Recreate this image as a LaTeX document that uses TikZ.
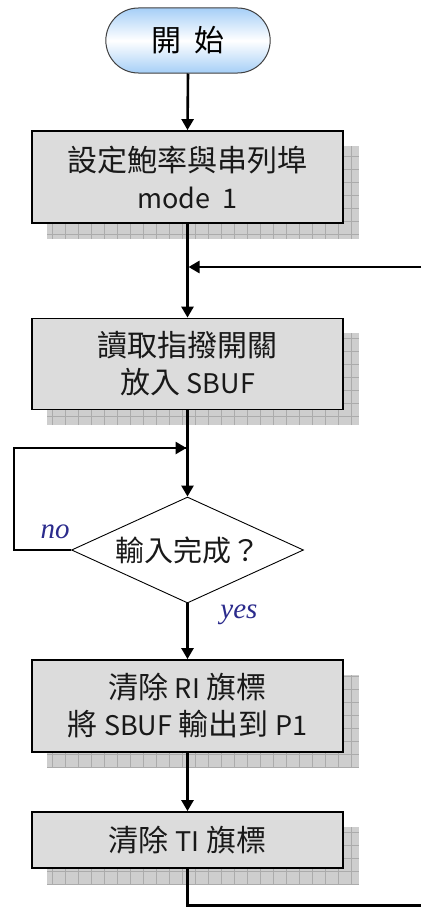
\documentclass[tikz,border=0pt]{standalone}
\usepackage{fontspec}
\setmainfont{Noto Sans CJK TC}
\newfontfamily\lat[Scale=0.9]{Noto Sans CJK TC}
\newfontfamily\lblfont{Liberation Serif}
\usetikzlibrary{shapes.geometric,shapes.misc,arrows.meta}
\definecolor{boxfill}{HTML}{DCDCDC}
\definecolor{shadfill}{HTML}{CECECE}
\definecolor{shadgrid}{HTML}{ABABAB}
\definecolor{startblue}{HTML}{A6CFF7}
\definecolor{lblblue}{HTML}{2B2B8C}
\newcommand\myshadow[4]{%
  \begin{scope}
    \clip (#1,#2) rectangle (#3,#4);
    \fill[shadfill] (#1,#2) rectangle (#3,#4);
    \draw[shadgrid,line width=0.8pt,step=13pt] (#1,#2) grid (#3,#4);
  \end{scope}}
\begin{document}
\begin{tikzpicture}[x=1pt,y=-1pt,
  procbox/.style={draw=black,line width=1.8pt,fill=boxfill,rectangle,
    minimum width=311pt,inner sep=0pt,align=center,font=\fontsize{30}{37}\selectfont,text=black!90},
  conn/.style={line width=2.6pt,draw=black},
  arr/.style={conn,-{Triangle[length=11pt,width=12pt]}},
  lbl/.style={font=\lblfont\itshape\fontsize{29}{30}\selectfont,text=lblblue}]
\useasboundingbox (0,0) rectangle (421,907);
% shadows
\myshadow{47}{146}{359}{239}
\myshadow{47}{333}{359}{425}
\myshadow{47}{675}{359}{768}
\myshadow{47}{827}{359}{884}
% start
\node[rounded rectangle,draw=black!75,line width=1pt,minimum width=171pt,minimum height=65pt,
  top color=startblue,bottom color=startblue,middle color=white,
  font=\fontsize{30}{30}\selectfont] (start) at (188,40.5) {開\hspace{14pt}始};
% boxes
\node[procbox,minimum height=92pt] (b1) at (187.5,177) {設定鮑率與串列埠\\{\lat mode\hspace{12pt}1}};
\node[procbox,minimum height=91pt] (b2) at (187.5,364) {讀取指撥開關\\放入 {\lat SBUF}};
\node[diamond,draw=black,line width=0.9pt,fill=white,minimum width=232pt,minimum height=106pt,inner sep=0pt] (d) at (187.5,550) {};
\node[font=\fontsize{29}{30}\selectfont,text=black!90] (dt) at (d.center) {輸入完成？};
\node[procbox,minimum height=92pt] (b3) at (187.5,706) {清除 {\lat RI} 旗標\\將 {\lat SBUF} 輸出到 {\lat P1}};
\node[procbox,minimum height=56pt] (b4) at (187.5,840) {清除 {\lat TI} 旗標};
% labels
\node[lbl] (no) at (55,532) {no};
\node[lbl] (yes) at (239,615) {yes};
% coordinates
\coordinate (j1) at (187.5,267);
\coordinate (r1) at (421,267);
\coordinate (j2) at (187.5,448);
\coordinate (l1) at (14,448);
\coordinate (l2) at (14,550);
\coordinate (e1) at (187.5,905.5);
\coordinate (e2) at (421,905.5);
% connectors
\draw[arr] (start.south) -- (b1.north);
\draw[arr] (b1.south) -- (b2.north);
\draw[arr] (r1) -- ([xshift=1pt]j1);
\draw[arr] (b2.south) -- (d.north);
\draw[conn] (d.west) -- (l2) -- (l1) -- ([xshift=-1pt]j2);
\draw[arr] (l1) -- ([xshift=-1pt]j2);
\draw[arr] (d.south) -- (b3.north);
\draw[arr] (b3.south) -- (b4.north);
\draw[conn] (b4.south) -- (e1) -- (e2);
\end{tikzpicture}
\end{document}
